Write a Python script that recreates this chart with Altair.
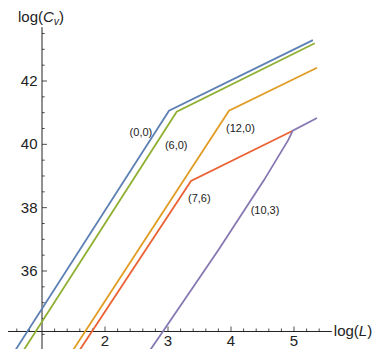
import altair as alt
import pandas as pd

# ---------------- data ----------------
series_names = ["(0,0)", "(12,0)", "(6,0)", "(7,6)", "(10,3)"]
series_colors = ["#5E81B5", "#E19C24", "#8FB032", "#EB6235", "#8778B3"]

logL_00 = [0.50, 3.016, 5.30]
logC_00 = [33.26, 41.06, 43.29]
logL_120 = [1.42, 3.968, 5.365]
logC_120 = [33.28, 41.06, 42.42]
logL_60 = [0.60, 3.138, 5.33]
logC_60 = [33.16, 41.03, 43.19]
logL_76 = [1.524, 3.365, 4.98]
logC_76 = [33.28, 38.84, 40.43]
logL_103 = [2.64, 2.935, 3.80, 4.524, 4.91, 4.98, 5.365]
logC_103 = [33.28, 34.14, 36.66, 38.87, 40.14, 40.43, 40.83]

label_text = ["(0,0)", "(6,0)", "(12,0)", "(7,6)", "(10,3)"]
label_L = [2.57, 3.13, 4.15, 3.497, 4.54]
label_C = [40.37, 39.95, 40.48, 38.27, 37.90]

x_major = [2, 3, 4, 5]
y_major = [36, 38, 40, 42]

# ---------------- layout ----------------
W, H = 366, 341
X_DOM = [0.4603, 6.2698]
Y_DOM = [33.537, 44.305]
PX_X = W / (X_DOM[1] - X_DOM[0])
PX_Y = H / (Y_DOM[1] - Y_DOM[0])
AX_L = 1.0          # y axis position (log L)
AX_C = 34.09        # x axis position (log Cv)
X_AX_END = 5.6
Y_AX_TOP = 43.70
FONT = "Liberation Sans"
AXCOL = "#222222"

xs = alt.Scale(domain=X_DOM, nice=False, zero=False)
ys = alt.Scale(domain=Y_DOM, nice=False, zero=False)

def X(f="L"):
    return alt.X(f"{f}:Q", scale=xs, axis=None)

def Y(f="C"):
    return alt.Y(f"{f}:Q", scale=ys, axis=None)

layers = []

# axes lines
axes_df = pd.DataFrame({
    "L": [X_DOM[0] - 0.2, AX_L],
    "C": [AX_C, Y_DOM[0] - 0.5],
    "L2": [X_AX_END, AX_L],
    "C2": [AX_C, Y_AX_TOP],
})
layers.append(alt.Chart(axes_df).mark_rule(color=AXCOL, strokeWidth=1, clip=True).encode(
    x=X("L"), y=Y("C"), x2="L2:Q", y2="C2:Q"))

# x ticks
xt = []
v = 0.6
while v <= 5.41:
    r = round(v, 1)
    if abs(r - 1.0) > 1e-6:
        major = abs(r - round(r)) < 1e-6
        xt.append({"L": r, "C": AX_C, "C2": AX_C + (5 if major else 3) / PX_Y})
    v += 0.2
layers.append(alt.Chart(pd.DataFrame(xt)).mark_rule(color=AXCOL, strokeWidth=0.8, clip=True).encode(
    x=X("L"), y=Y("C"), y2="C2:Q"))

# y ticks
yt = []
v = 33.5
while v <= 43.51:
    r = round(v, 1)
    major = r in y_major
    yt.append({"L": AX_L, "L2": AX_L + (5 if major else 2.7) / PX_X, "C": r})
    v += 0.5
layers.append(alt.Chart(pd.DataFrame(yt)).mark_rule(color=AXCOL, strokeWidth=0.8, clip=True).encode(
    x=X("L"), x2="L2:Q", y=Y("C")))

# tick labels
xl = pd.DataFrame({"L": x_major, "C": [AX_C] * len(x_major), "t": [str(v) for v in x_major]})
layers.append(alt.Chart(xl).mark_text(font=FONT, fontSize=15, color=AXCOL, align="center",
                                      baseline="middle", dy=10).encode(x=X("L"), y=Y("C"), text="t:N"))
yl = pd.DataFrame({"L": [AX_L] * len(y_major), "C": y_major, "t": [str(v) for v in y_major]})
layers.append(alt.Chart(yl).mark_text(font=FONT, fontSize=15, color=AXCOL, align="right",
                                      baseline="middle", dx=-4.5).encode(x=X("L"), y=Y("C"), text="t:N"))

# axis titles built from parts (to get italics / subscript)
def rich(parts, L, C, dx0, dy0):
    out = []
    dx = dx0
    for txt, style, size, dyo, w in parts:
        df = pd.DataFrame({"L": [L], "C": [C], "t": [txt]})
        out.append(alt.Chart(df).mark_text(font=FONT, fontSize=size, fontStyle=style, color=AXCOL,
                                           align="left", baseline="alphabetic", dx=dx, dy=dy0 + dyo)
                   .encode(x=X("L"), y=Y("C"), text="t:N"))
        dx += w * size
    return out

layers += rich([("log(", "normal", 15, 0, 1.667), ("L", "italic", 15, 0, 0.556), (")", "normal", 15, 0, 0.333)],
               X_AX_END, AX_C, 2, 5)
layers += rich([("log(", "normal", 15, 0, 1.667), ("C", "italic", 15, 0, 0.722), ("v", "italic", 10.5, 3, 0.5),
                (")", "normal", 15, 0, 0.333)], AX_L, Y_AX_TOP, -24, -5)

# curves
all_L = [logL_00, logL_120, logL_60, logL_76, logL_103]
all_C = [logC_00, logC_120, logC_60, logC_76, logC_103]
for name, col, Ls, Cs in zip(series_names, series_colors, all_L, all_C):
    df = pd.DataFrame({"L": Ls, "C": Cs, "s": [name] * len(Ls), "o": list(range(len(Ls)))})
    layers.append(alt.Chart(df).mark_line(color=col, strokeWidth=1.8, clip=True, strokeJoin="miter").encode(
        x=X("L"), y=Y("C"), order="o:Q"))

# curve labels
lab = pd.DataFrame({"L": label_L, "C": label_C, "t": label_text})
layers.append(alt.Chart(lab).mark_text(font=FONT, fontSize=11, color="#222222", align="center",
                                       baseline="middle").encode(x=X("L"), y=Y("C"), text="t:N"))

chart = alt.layer(*layers).properties(
    width=W, height=H, padding=0, autosize=alt.AutoSizeParams(type="none")
).configure_view(stroke=None)

chart.save("out.html", embed_options={"renderer": "svg", "actions": False})
